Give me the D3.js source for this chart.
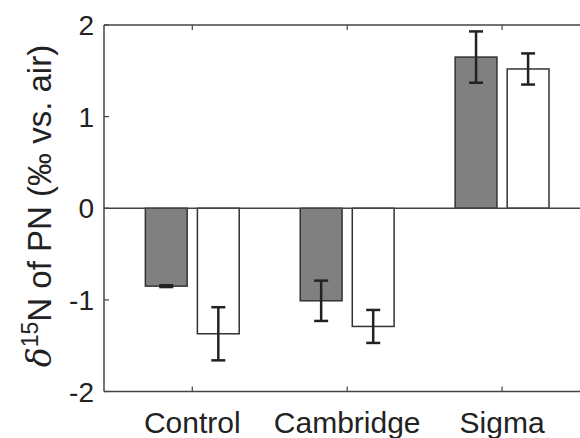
<!DOCTYPE html>
<html>
<head>
<meta charset="utf-8">
<script src="https://cdn.jsdelivr.net/npm/d3@7"></script>
<style>
  body { margin: 0; background: #fff; }
  svg { display: block; font-family: "Liberation Sans", Arial, sans-serif; }
</style>
</head>
<body>
<svg id="chart" width="580" height="438"></svg>
<script>
// d15N of PN, filled = grey bars, open = white bars
const categories = ['Control', 'Cambridge', 'Sigma'];
const filledVals = [-0.85, -1.01, 1.65];
const filledErr = [0.01, 0.22, 0.28];
const openVals = [-1.37, -1.29, 1.52];
const openErr = [0.29, 0.18, 0.17];
const yTicks = [-2, -1, 0, 1, 2];

const svg = d3.select('#chart');

// plot box runs off the right side of the picture
const plotL = 104, plotT = 25, plotB = 391.5, plotR = 595;

const x = d3.scaleLinear()
    .domain([0.43, 3.6])
    .range([plotL, plotR]);

const y = d3.scaleLinear()
    .domain([-2, 2])
    .range([plotB, plotT]);

const barW = x(1.27) - x(1);
const offset = 0.168;
const ink = '#333';

// bars
const series = [
    { vals: filledVals, err: filledErr, dx: -offset, fill: '#808080' },
    { vals: openVals, err: openErr, dx: offset, fill: '#fff' }
];

series.forEach(function (s) {
    const g = svg.append('g');
    g.selectAll('rect')
        .data(s.vals)
        .enter().append('rect')
        .attr('x', (d, i) => x(i + 1 + s.dx) - barW / 2)
        .attr('y', d => y(Math.max(0, d)))
        .attr('width', barW)
        .attr('height', d => Math.abs(y(d) - y(0)))
        .style('fill', s.fill)
        .style('stroke', ink)
        .style('stroke-width', 1.5);
});

// axes box (left, top, bottom) and zero line
svg.append('line')
    .attr('x1', plotL).attr('x2', plotL).attr('y1', plotT).attr('y2', plotB)
    .style('stroke', '#444').style('stroke-width', 1.5);
svg.append('line')
    .attr('x1', plotL).attr('x2', plotR).attr('y1', plotT).attr('y2', plotT)
    .style('stroke', '#444').style('stroke-width', 1.5);
svg.append('line')
    .attr('x1', plotL).attr('x2', plotR).attr('y1', plotB).attr('y2', plotB)
    .style('stroke', '#444').style('stroke-width', 1.5);
svg.append('line')
    .attr('x1', plotL).attr('x2', plotR).attr('y1', y(0)).attr('y2', y(0))
    .style('stroke', '#444').style('stroke-width', 1.5);

// error bars
series.forEach(function (s) {
    const g = svg.append('g')
        .style('stroke', '#222')
        .style('stroke-width', 2.5);
    s.vals.forEach(function (v, i) {
        const cx = x(i + 1 + s.dx);
        const y1 = y(v + s.err[i]), y2 = y(v - s.err[i]);
        g.append('line').attr('x1', cx).attr('x2', cx).attr('y1', y1).attr('y2', y2);
        g.append('line').attr('x1', cx - 7).attr('x2', cx + 7).attr('y1', y1).attr('y2', y1);
        g.append('line').attr('x1', cx - 7).attr('x2', cx + 7).attr('y1', y2).attr('y2', y2);
    });
});

// y ticks
const yAxis = svg.append('g');
yTicks.forEach(function (t) {
    yAxis.append('line')
        .attr('x1', plotL).attr('x2', plotL + 5)
        .attr('y1', y(t)).attr('y2', y(t))
        .style('stroke', '#444').style('stroke-width', 1.2);
    yAxis.append('text')
        .attr('x', 94)
        .attr('y', y(t))
        .attr('dy', '0.36em')
        .attr('text-anchor', 'end')
        .style('font-size', '28px')
        .style('fill', '#222')
        .text(t < 0 ? '-' + Math.abs(t) : String(t));
});

// x ticks (bottom up, top down) and labels
categories.forEach(function (c, i) {
    const cx = x(i + 1);
    svg.append('line')
        .attr('x1', cx).attr('x2', cx).attr('y1', plotB).attr('y2', plotB - 5)
        .style('stroke', '#444').style('stroke-width', 1.2);
    svg.append('line')
        .attr('x1', cx).attr('x2', cx).attr('y1', plotT).attr('y2', plotT + 5)
        .style('stroke', '#444').style('stroke-width', 1.2);
    svg.append('text')
        .attr('x', cx)
        .attr('y', 433)
        .attr('text-anchor', 'middle')
        .style('font-size', '30px')
        .style('fill', '#222')
        .text(c);
});

// y label
const yl = svg.append('text')
    .attr('transform', 'translate(51,' + 206 + ') rotate(-90)')
    .attr('text-anchor', 'middle')
    .style('font-size', '33px')
    .style('fill', '#222');
yl.append('tspan').style('font-style', 'italic').style('font-family', '"DejaVu Serif", serif').text('δ');
yl.append('tspan').attr('dy', -13).style('font-size', '23px').text('15');
yl.append('tspan').attr('dy', 13).text('N of PN (‰ vs. air)');
</script>
</body>
</html>
